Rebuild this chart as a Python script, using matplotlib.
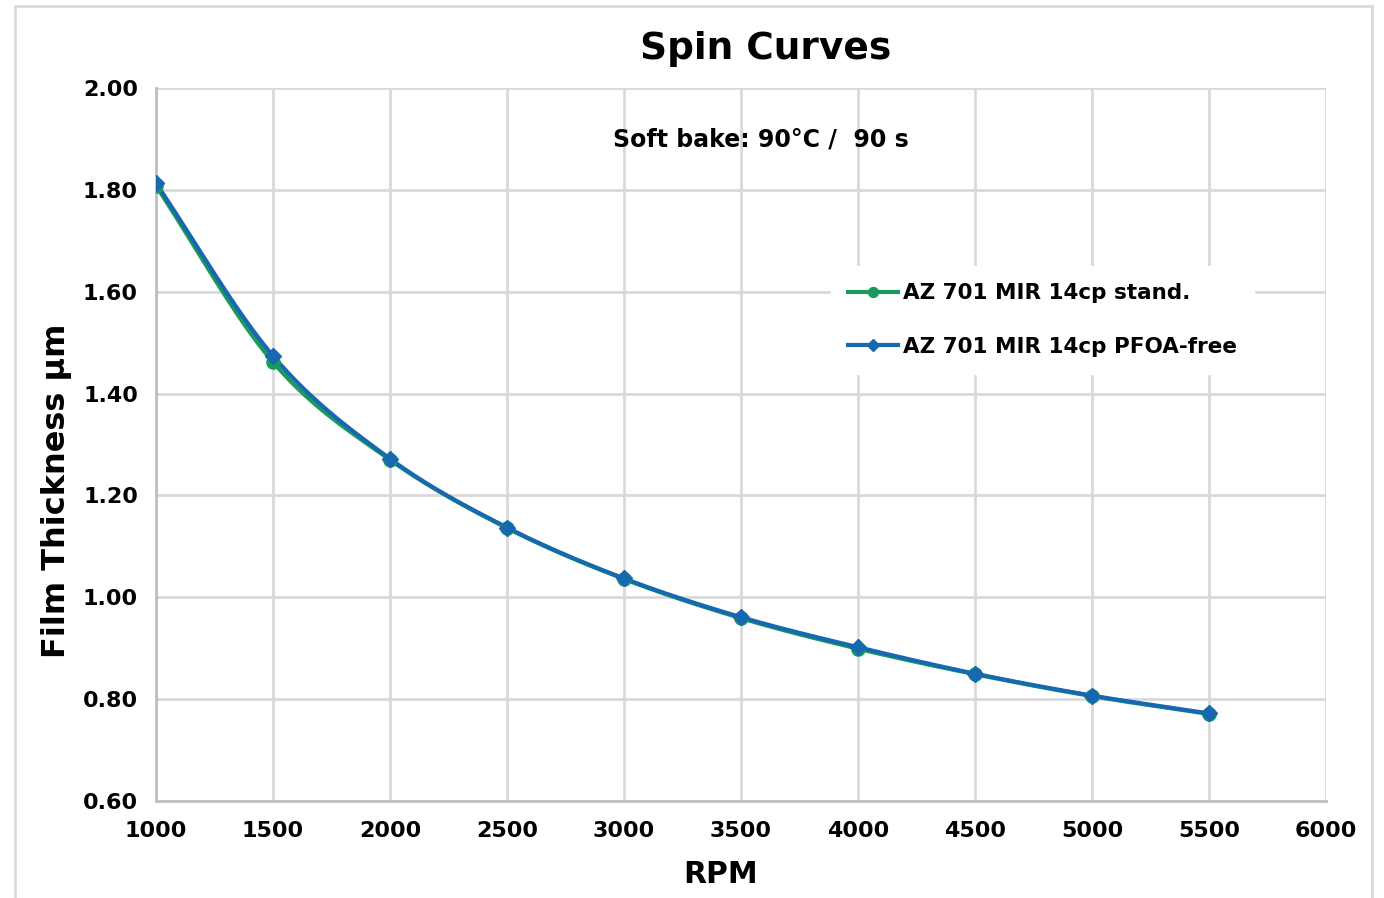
import numpy as np
import matplotlib
matplotlib.use("Agg")
import matplotlib.pyplot as plt
from matplotlib.patches import Rectangle

rpm = [1000, 1500, 2000, 2500, 3000, 3500, 4000, 4500, 5000, 5500]
stand = [1.808, 1.462, 1.270, 1.136, 1.036, 0.959, 0.899, 0.849, 0.806, 0.771]
pfoa_free = [1.813, 1.474, 1.272, 1.137, 1.037, 0.961, 0.902, 0.850, 0.807, 0.772]
labels = ["AZ 701 MIR 14cp stand.", "AZ 701 MIR 14cp PFOA-free"]
colors = ["#1a9a5a", "#1668b0"]
xticks = [1000, 1500, 2000, 2500, 3000, 3500, 4000, 4500, 5000, 5500, 6000]
yticks = [0.60, 0.80, 1.00, 1.20, 1.40, 1.60, 1.80, 2.00]


def smooth(x, y, n=30):
    """Catmull-Rom style smoothing (like Excel's smoothed line) through the points."""
    x = np.asarray(x, float)
    y = np.asarray(y, float)
    px = np.concatenate([[2 * x[0] - x[1]], x, [2 * x[-1] - x[-2]]])
    py = np.concatenate([[2 * y[0] - y[1]], y, [2 * y[-1] - y[-2]]])
    xs, ys = [], []
    t = np.linspace(0, 1, n, endpoint=False)
    for i in range(1, len(px) - 2):
        p0, p1, p2, p3 = (np.array([px[j], py[j]]) for j in range(i - 1, i + 3))
        m1 = (p2 - p0) / 6.0
        m2 = (p3 - p1) / 6.0
        c1 = p1 + m1
        c2 = p2 - m2
        b = ((1 - t) ** 3)[:, None] * p1 + (3 * (1 - t) ** 2 * t)[:, None] * c1 \
            + (3 * (1 - t) * t ** 2)[:, None] * c2 + (t ** 3)[:, None] * p2
        xs.extend(b[:, 0]); ys.extend(b[:, 1])
    xs.append(x[-1]); ys.append(y[-1])
    return np.array(xs), np.array(ys)


plt.rcParams['font.family'] = ['DejaVu Sans']
fig = plt.figure(figsize=(13.84, 8.98), dpi=100)
ax = fig.add_axes([0.1127, 0.108, 0.8454, 0.794])

fig.patches.append(Rectangle((15 / 1384, -0.01), (1372 - 15) / 1384, 1 - 6 / 898 + 0.01,
                             transform=fig.transFigure, fill=False,
                             edgecolor="#d9d9d9", linewidth=2, zorder=0))

grid_c = "#d9d9d9"
for sx, sy, c, m, ms, lab in [(rpm, stand, colors[0], "o", 9.5, labels[0]),
                              (rpm, pfoa_free, colors[1], "D", 8.5, labels[1])]:
    xs, ys = smooth(sx, sy)
    ax.plot(xs, ys, color=c, lw=3, solid_capstyle="round", zorder=3)
    ax.plot(sx, sy, linestyle="none", marker=m, color=c, markersize=ms, zorder=4)
    ax.plot([], [], color=c, lw=3, marker=m, markersize=ms * 0.75, label=lab)

ax.set_xlim(1000, 6000)
ax.set_ylim(0.60, 2.00)
ax.set_xticks(xticks)
ax.set_yticks(yticks)
ax.set_yticklabels([f"{v:.2f}" for v in yticks])
ax.grid(True, color=grid_c, lw=2)
ax.set_axisbelow(True)
for s in ax.spines.values():
    s.set_visible(False)
for side in ("left", "bottom"):
    ax.spines[side].set_visible(True)
    ax.spines[side].set_color("#bfbfbf")
    ax.spines[side].set_linewidth(2)
ax.tick_params(length=0, labelsize=16)
ax.tick_params(axis="x", pad=14.5)
ax.tick_params(axis="y", pad=13)
for t in ax.get_xticklabels() + ax.get_yticklabels():
    t.set_fontweight("bold")

ax.set_xlabel("RPM", fontsize=21.5, fontweight="bold")
ax.xaxis.set_label_coords((721 - 156) / 1170, -(874 - 801) / 713, transform=ax.transAxes)
ax.xaxis.label.set_va("center")
ax.set_ylabel("Film Thickness µm", fontsize=23, fontweight="bold")
ax.yaxis.set_label_coords((57 - 156) / 1170, (801 - 491) / 713, transform=ax.transAxes)
ax.yaxis.label.set_va("center")
fig.text(766 / 1384, 1 - 49 / 898, "Spin Curves", ha="center", va="center", fontsize=27, fontweight="bold")
ax.text((761 - 156) / 1170, (801 - 139) / 713, "Soft bake: 90°C /  90 s", transform=ax.transAxes,
        ha="center", va="center", fontsize=17, fontweight="bold")

leg = ax.legend(loc="upper left", bbox_to_anchor=((831 - 156) / 1170, (801 - 266) / 713), frameon=True,
                prop={"weight": "bold", "size": 15.5}, handlelength=2.3, handletextpad=0.25,
                labelspacing=1.55, borderpad=0.8, borderaxespad=0, fancybox=False)
leg.get_frame().set_edgecolor("white")
leg.get_frame().set_facecolor("white")
leg.get_frame().set_alpha(1)

fig.savefig("out.png", dpi=100, facecolor="white")
